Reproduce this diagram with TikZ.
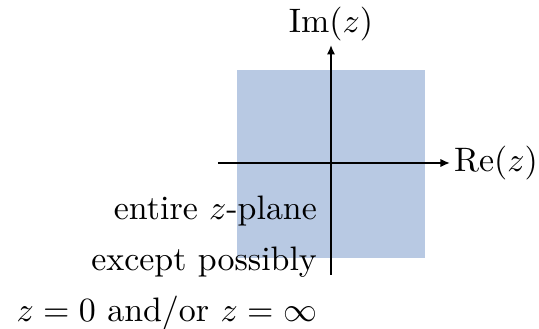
\documentclass[tikz,border=0pt]{standalone}
\usetikzlibrary{arrows.meta}
\definecolor{planeblue}{RGB}{184,201,227}

\begin{document}
\begin{tikzpicture}[
    x=0.01036cm, y=-0.01036cm,
    axis/.style={-{Latex[length=2.8pt,width=2.5pt]},line width=0.6pt},
    lbl/.style={inner sep=1pt}
]
  \useasboundingbox (0,0) rectangle (539,329);

  % shaded region
  \fill[planeblue] (237,70) rectangle (425,258);

  % axes
  \coordinate (xl) at (218,163);
  \coordinate (yb) at (331,275);
  \node[lbl,anchor=west] (re) at (450,163) {$\mathrm{Re}(z)$};
  \node[lbl,anchor=south] (im) at (331,45) {$\mathrm{Im}(z)$};
  \draw[axis] (xl) -- (re.west);
  \draw[axis] (yb) -- (im.south);

  % description
  \node[lbl,anchor=north east,align=right] (txt) at (321,192)
    {entire $z$-plane\\[3pt] except possibly\\[3pt] $z=0$ and/or $z=\infty$};
\end{tikzpicture}
\end{document}
